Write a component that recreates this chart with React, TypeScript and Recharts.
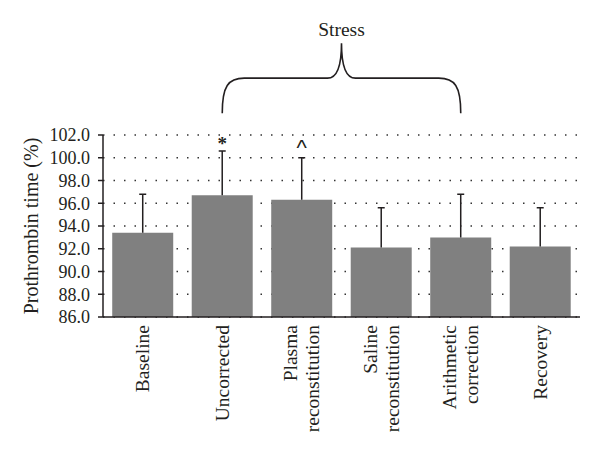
import React from 'react';
import { BarChart, Bar, XAxis, YAxis, CartesianGrid, ReferenceLine, ReferenceDot } from 'recharts';

const categories = ['Baseline', 'Uncorrected', 'Plasma reconstitution', 'Saline reconstitution', 'Arithmetic correction', 'Recovery'];
const meanValues = [93.4, 96.7, 96.3, 92.1, 93.0, 92.2];
const sdValues = [3.4, 3.9, 3.7, 3.5, 3.8, 3.4];
const markers = ['', '*', '^', '', '', ''];
const yTicks = [86, 88, 90, 92, 94, 96, 98, 100, 102];
const braceFrom = 'Uncorrected';
const braceTo = 'Arithmetic correction';
const braceLabel = 'Stress';
const braceLevel = 107;

const data = categories.map((c, i) => ({ name: c, mean: meanValues[i], sd: sdValues[i], marker: markers[i] }));

const FONT = '"Liberation Serif", "Times New Roman", serif';
const INK = '#231f20';

const XTick = (props: any) => {
  const { x, y, payload } = props;
  const lines = String(payload.value).split(' ');
  const n = lines.length;
  const gap = 22;
  return (
    <g>
      {lines.map((l: string, i: number) => {
        const cx = x + (i - (n - 1) / 2) * gap;
        return (
          <text key={i} transform={`translate(${cx},${y + 8}) rotate(-90)`} textAnchor="end" dominantBaseline="central" fontSize={19.5} fontFamily={FONT} fill={INK}>
            {l}
          </text>
        );
      })}
    </g>
  );
};

const ErrorShape = (props: any) => {
  const { x, y, width, height } = props;
  if (x == null || y == null) return <g />;
  const cx = x + width / 2;
  return (
    <g stroke={INK} strokeWidth={1.5}>
      <line x1={cx} y1={y + height} x2={cx} y2={y} />
      <line x1={cx - 3.5} y1={y} x2={cx + 3.5} y2={y} />
    </g>
  );
};

const BraceShape = (props: any) => {
  const { x1, y1, x2 } = props;
  if (x1 == null) return <g />;
  const y = y1;
  const mid = (x1 + x2) / 2;
  const d = `M ${x1} ${y + 35} C ${x1} ${y + 8} ${x1 + 6} ${y} ${x1 + 22} ${y} L ${mid - 14} ${y} C ${mid - 5} ${y} ${mid} ${y - 12} ${mid} ${y - 35} C ${mid} ${y - 12} ${mid + 5} ${y} ${mid + 14} ${y} L ${x2 - 22} ${y} C ${x2 - 6} ${y} ${x2} ${y + 8} ${x2} ${y + 35}`;
  return (
    <g>
      <path d={d} fill="none" stroke={INK} strokeWidth={1.6} />
      <text x={mid} y={y - 42} textAnchor="middle" fontSize={19.5} fontFamily={FONT} fill={INK}>{braceLabel}</text>
    </g>
  );
};

const MarkerShape = (label: string) => (props: any) => {
  const { cx, cy } = props;
  if (cx == null) return <g />;
  const isCaret = label === '^';
  return (
    <text x={cx} y={isCaret ? cy - 3 : cy - 1} textAnchor="middle" fontSize={isCaret ? 22 : 19} fontWeight={isCaret ? 'normal' : 'bold'} fontFamily={isCaret ? '"Liberation Sans", sans-serif' : FONT} fill={INK}>
      {label}
    </text>
  );
};

export default function App() {
  return (
    <div style={{ position: 'absolute', left: 0, top: 0, width: 600, height: 455, background: '#fff' }}>
      <BarChart width={600} height={455} data={data} margin={{ top: 135, right: 20, bottom: 8, left: 0 }} barCategoryGap="11.6%">
        <CartesianGrid horizontal vertical={false} stroke="#333" strokeDasharray="1.5 9" strokeWidth={1.5} />
        <XAxis dataKey="name" height={130} tickLine={false} tickSize={0} tickMargin={0} interval={0} axisLine={{ stroke: INK, strokeWidth: 1.5 }} tick={<XTick />} />
        <YAxis
          width={103}
          domain={[86, 102]}
          allowDataOverflow
          ticks={yTicks}
          interval={0}
          tickFormatter={(v: number) => v.toFixed(1)}
          tickSize={5}
          tickMargin={8}
          tick={{ fontSize: 18, fontFamily: FONT, fill: INK }}
          axisLine={{ stroke: INK, strokeWidth: 1.5 }}
          tickLine={{ stroke: INK, strokeWidth: 1.5 }}
          label={{ value: 'Prothrombin time (%)', angle: -90, position: 'center', dx: -21, style: { fontSize: 20, fontFamily: FONT, fill: INK, textAnchor: 'middle' } }}
        />
        <Bar dataKey="mean" stackId="a" fill="#808080" isAnimationActive={false} />
        <Bar dataKey="sd" stackId="a" shape={<ErrorShape />} isAnimationActive={false} />
        {data.filter((d) => d.marker).map((d) => (
          <ReferenceDot key={d.name} x={d.name} y={d.mean + d.sd} r={0} ifOverflow="visible" shape={MarkerShape(d.marker)} />
        ))}
        <ReferenceLine segment={[{ x: braceFrom, y: braceLevel }, { x: braceTo, y: braceLevel }]} ifOverflow="visible" shape={BraceShape} />
      </BarChart>
    </div>
  );
}
